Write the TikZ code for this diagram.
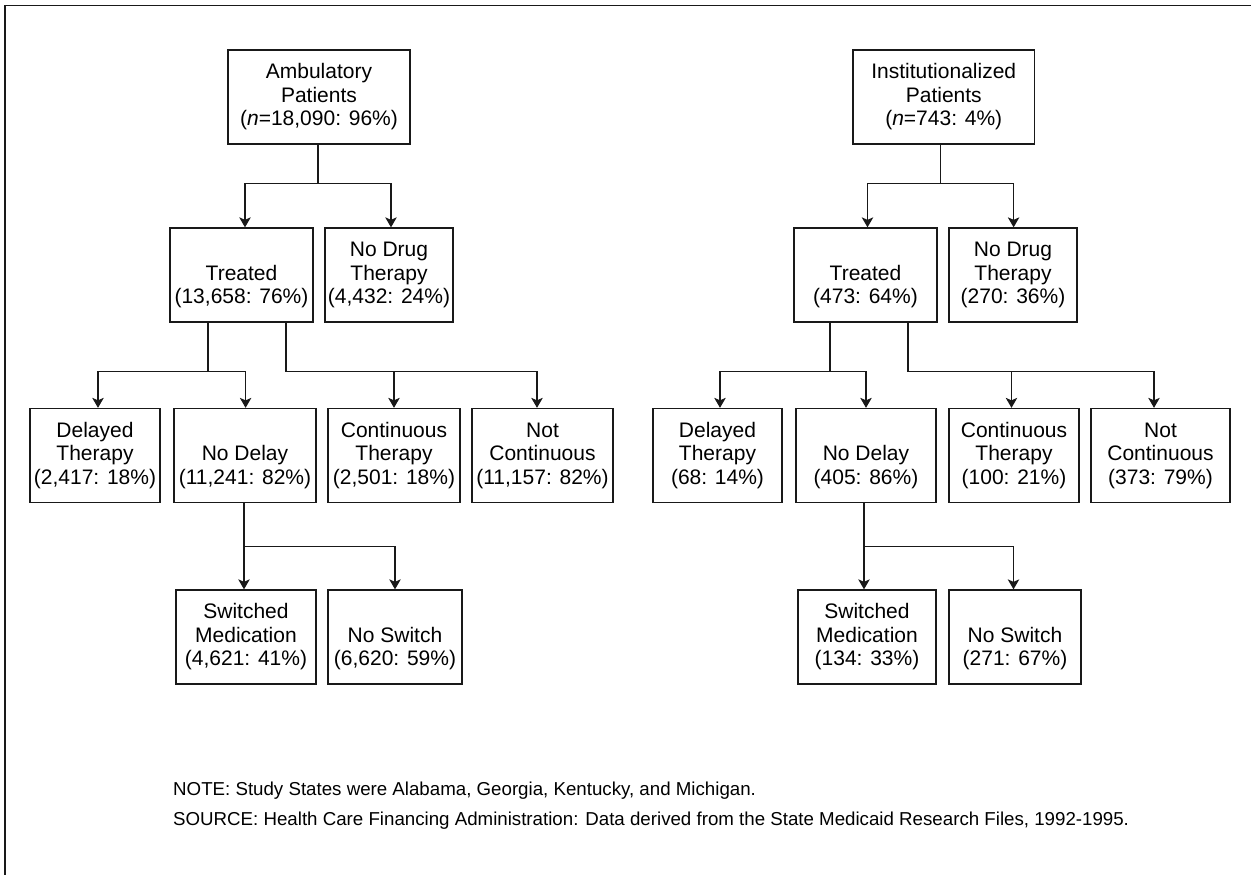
\documentclass[tikz,border=0pt]{standalone}
\usepackage{fontspec}
\setmainfont{Liberation Sans}
\usetikzlibrary{arrows.meta}
\begin{document}
\begin{tikzpicture}[x=1pt,y=-1pt,
  box/.style={draw=black!90, line width=1.3pt, align=center, inner sep=0pt,
    minimum height=94pt, font=\fontsize{21}{23.5}\selectfont},
  conn/.style={draw=black!90, line width=1.3pt},
  arr/.style={conn, -{Stealth[length=10pt,width=11.5pt,inset=2.5pt]}},
  notetext/.style={anchor=base west, inner sep=0pt, font=\fontsize{18.7}{22}\selectfont}]
\useasboundingbox (0,0) rectangle (1251,875);
\coordinate (frameBL) at (5,875);
\coordinate (frameTL) at (5,5.5);
\coordinate (frameTR) at (1251,5.5);
\draw[line width=1.6pt, black!90] (frameBL) -- (frameTL) -- (frameTR);

% ---------- left tree ----------
\node[box, minimum width=182pt] (amb) at (319,97) {Ambulatory\\Patients\\(\textit{n}=18,090: 96\%)};
\node[box, minimum width=143pt] (treatL) at (241.5,275) {\vphantom{T}\\Treated\\(13,658: 76\%)};
\node[box, minimum width=128pt] (nodrugL) at (389,275) {No Drug\\Therapy\\(4,432: 24\%)};
\node[box, minimum width=130pt] (delL) at (95,455.5) {Delayed\\Therapy\\(2,417: 18\%)};
\node[box, minimum width=142pt] (nodelL) at (245,455.5) {\vphantom{T}\\No Delay\\(11,241: 82\%)};
\node[box, minimum width=132pt] (contL) at (394,455.5) {Continuous\\Therapy\\(2,501: 18\%)};
\node[box, minimum width=141pt] (notcL) at (542.5,455.5) {Not\\Continuous\\(11,157: 82\%)};
\node[box, minimum width=140pt] (swL) at (246,637) {Switched\\Medication\\(4,621: 41\%)};
\node[box, minimum width=134pt] (noswL) at (395,637) {\vphantom{T}\\No Switch\\(6,620: 59\%)};

\draw[arr] ([xshift=-1pt]amb.south) -- ++(0,39) -| ([xshift=3.5pt]treatL.north);
\draw[arr] ([xshift=-1pt]amb.south) -- ++(0,39) -| ([xshift=2pt]nodrugL.north);
\draw[arr] ([xshift=-33.5pt]treatL.south) -- ++(0,49) -| ([xshift=3pt]delL.north);
\draw[arr] ([xshift=-33.5pt]treatL.south) -- ++(0,49) -| ([xshift=0.6pt]nodelL.north);
\draw[arr] ([xshift=44.5pt]treatL.south) -- ++(0,49) -| (contL.north);
\draw[arr] ([xshift=44.5pt]treatL.south) -- ++(0,49) -| ([xshift=-5.5pt]notcL.north);
\draw[arr] ([xshift=-1pt]nodelL.south) -- ++(0,43.5) -| ([xshift=-2pt]swL.north);
\draw[arr] ([xshift=-1pt]nodelL.south) -- ++(0,43.5) -| (noswL.north);

% ---------- right tree ----------
\node[box, minimum width=181.5pt] (inst) at (943.75,97) {Institutionalized\\Patients\\(\textit{n}=743: 4\%)};
\node[box, minimum width=143pt] (treatR) at (865.5,275) {\vphantom{T}\\Treated\\(473: 64\%)};
\node[box, minimum width=128pt] (nodrugR) at (1013,275) {No Drug\\Therapy\\(270: 36\%)};
\node[box, minimum width=129pt] (delR) at (717.5,455.5) {Delayed\\Therapy\\(68: 14\%)};
\node[box, minimum width=140pt] (nodelR) at (866,455.5) {\vphantom{T}\\No Delay\\(405: 86\%)};
\node[box, minimum width=130pt] (contR) at (1014,455.5) {Continuous\\Therapy\\(100: 21\%)};
\node[box, minimum width=139pt] (notcR) at (1160.5,455.5) {Not\\Continuous\\(373: 79\%)};
\node[box, minimum width=138pt] (swR) at (867,637) {Switched\\Medication\\(134: 33\%)};
\node[box, minimum width=132pt] (noswR) at (1015,637) {\vphantom{T}\\No Switch\\(271: 67\%)};

\draw[arr] ([xshift=-3pt]inst.south) -- ++(0,39) -| ([xshift=2pt]treatR.north);
\draw[arr] ([xshift=-3pt]inst.south) -- ++(0,39) -| ([xshift=0.6pt]nodrugR.north);
\draw[arr] ([xshift=-35.5pt]treatR.south) -- ++(0,49) -| ([xshift=2.5pt]delR.north);
\draw[arr] ([xshift=-35.5pt]treatR.south) -- ++(0,49) -| (nodelR.north);
\draw[arr] ([xshift=42.5pt]treatR.south) -- ++(0,49) -| ([xshift=-2.5pt]contR.north);
\draw[arr] ([xshift=42.5pt]treatR.south) -- ++(0,49) -| ([xshift=-6.5pt]notcR.north);
\draw[arr] ([xshift=-2pt]nodelR.south) -- ++(0,43.5) -| ([xshift=-3pt]swR.north);
\draw[arr] ([xshift=-2pt]nodelR.south) -- ++(0,43.5) -| ([xshift=-1.5pt]noswR.north);

% ---------- notes ----------
\node[notetext] (note) at (173,795) {NOTE: Study States were Alabama, Georgia, Kentucky, and Michigan.};
\node[notetext] (source) at (173,825) {SOURCE: Health Care Financing Administration: Data derived from the State Medicaid Research Files, 1992-1995.};
\end{tikzpicture}
\end{document}
